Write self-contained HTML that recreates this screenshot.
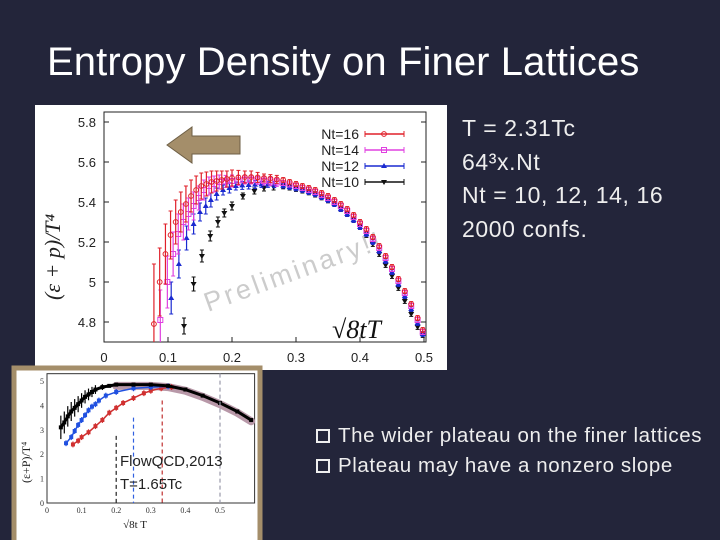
<!DOCTYPE html>
<html><head><meta charset="utf-8"><style>
body{margin:0;width:720px;height:540px;background:#23253a;overflow:hidden;position:relative;font-family:"Liberation Sans",sans-serif}
.t{position:absolute;color:#fff;font-family:"Liberation Sans",sans-serif}
</style></head><body>
<div class="t" style="left:47px;top:40px;font-size:40px;letter-spacing:0.1px">Entropy Density on Finer Lattices</div>
<div class="t" style="left:462px;top:112px;font-size:23px;letter-spacing:0.6px;line-height:33.5px;color:#eee">T = 2.31Tc<br>64³x.Nt<br>Nt = 10, 12, 14, 16<br>2000 confs.</div>
<div class="t" style="left:316px;top:421px;font-size:20.5px;letter-spacing:0.6px;line-height:30px;color:#eee">
<div><span style="display:inline-block;width:14px;height:14px;border:2px solid #eee;box-sizing:border-box;margin-right:8px;position:relative;top:1px"></span>The wider plateau on the finer lattices</div>
<div><span style="display:inline-block;width:14px;height:14px;border:2px solid #eee;box-sizing:border-box;margin-right:8px;position:relative;top:1px"></span>Plateau may have a nonzero slope</div>
</div>
<svg id="main" width="720" height="540" style="position:absolute;left:0;top:0">
<rect x="35" y="105" width="412" height="265" fill="#fff"/>
</svg>
<script>
const NS="http://www.w3.org/2000/svg";
const xTicks=[0,0.1,0.2,0.3,0.4,0.5];
const yTicks=[4.8,5,5.2,5.4,5.6,5.8];
const yTickLabels=["4.8","5","5.2","5.4","5.6","5.8"];
const seriesNames=["Nt=16","Nt=14","Nt=12","Nt=10"];
const tailX=[0.28,0.29,0.30,0.31,0.32,0.33,0.34,0.35,0.36,0.37,0.38,0.39,0.40,0.41,0.42,0.43,0.44,0.45,0.46,0.47,0.48,0.49,0.498];
const x16=[0.078,0.087,0.096,0.104,0.112,0.120,0.128,0.136,0.144,0.152,0.160,0.168,0.176,0.184,0.192,0.200,0.210,0.220,0.230,0.240,0.250,0.260,0.270].concat(tailX);
const y16=[4.79,5.00,5.14,5.235,5.30,5.35,5.39,5.43,5.46,5.48,5.49,5.50,5.505,5.51,5.515,5.52,5.523,5.525,5.525,5.523,5.52,5.517,5.513,
5.51,5.50,5.49,5.48,5.47,5.46,5.445,5.43,5.41,5.39,5.365,5.335,5.30,5.265,5.225,5.18,5.13,5.075,5.015,4.955,4.89,4.82,4.76];
const e16=[0.3,0.17,0.15,0.12,0.11,0.1,0.09,0.08,0.07,0.065,0.06,0.055,0.05,0.045,0.04,0.04,0.035,0.03,0.03,0.025,0.02,0.02,0.02];
const x14=[0.088,0.099,0.108,0.116,0.124,0.132,0.140,0.148,0.156,0.164,0.172,0.180,0.190,0.200,0.210,0.220,0.230,0.240,0.250,0.260,0.270].concat(tailX);
const y14=[4.81,5.00,5.14,5.24,5.30,5.34,5.38,5.42,5.46,5.48,5.49,5.50,5.503,5.505,5.508,5.51,5.51,5.508,5.505,5.502,5.498,
5.495,5.488,5.48,5.47,5.46,5.45,5.435,5.42,5.40,5.38,5.355,5.325,5.29,5.255,5.215,5.17,5.12,5.065,5.005,4.945,4.88,4.81,4.75];
const e14=[0.15,0.13,0.11,0.1,0.09,0.08,0.07,0.06,0.05,0.045,0.04,0.035,0.03,0.03,0.025,0.02,0.02,0.02,0.02,0.02,0.02];
const x12=[0.105,0.117,0.129,0.140,0.150,0.159,0.167,0.176,0.186,0.196,0.206,0.216,0.226,0.236,0.246,0.256,0.266].concat(tailX);
const y12=[4.92,5.09,5.22,5.29,5.35,5.38,5.41,5.44,5.46,5.47,5.48,5.483,5.485,5.487,5.488,5.488,5.487,
5.482,5.475,5.468,5.46,5.45,5.44,5.425,5.41,5.39,5.365,5.34,5.31,5.275,5.24,5.2,5.155,5.105,5.05,4.99,4.93,4.865,4.795,4.74];
const e12=[0.08,0.07,0.06,0.05,0.045,0.04,0.035,0.03,0.025,0.025,0.02,0.02,0.02,0.02,0.015,0.015,0.015];
const x10=[0.125,0.140,0.153,0.166,0.178,0.188,0.200,0.217,0.235,0.250,0.265].concat(tailX);
const y10=[4.78,4.99,5.13,5.23,5.30,5.345,5.38,5.43,5.455,5.47,5.475,
5.478,5.472,5.465,5.457,5.448,5.437,5.423,5.408,5.39,5.365,5.34,5.31,5.275,5.235,5.19,5.14,5.085,5.03,4.97,4.905,4.84,4.775,4.735];
const e10=[0.04,0.035,0.03,0.025,0.025,0.02,0.02,0.015,0.015,0.015,0.015];
const X=v=>104+v*640, Y=v=>122+(5.8-v)*200;
const svg=document.getElementById('main');
function mk(tag,attrs,parent){const e=document.createElementNS(NS,tag);for(const k in attrs)e.setAttribute(k,attrs[k]);(parent||svg).appendChild(e);return e;}
const ax=mk('rect',{x:X(0),y:112,width:X(0.5)-X(0)+2,height:Y(4.7)-112,fill:'none',stroke:'#222','stroke-width':1});


xTicks.forEach(v=>{const t=mk('text',{x:X(v),y:362,'font-size':13,'text-anchor':'middle',fill:'#222'});t.textContent=String(v);


mk('line',{x1:X(v),x2:X(v),y1:Y(4.7),y2:Y(4.7)-5,stroke:'#222'});});
yTicks.forEach((v,i)=>{const t=mk('text',{x:96,y:Y(v)+5,'font-size':13,'text-anchor':'end',fill:'#222'});t.textContent=yTickLabels[i];


mk('line',{x1:X(0),x2:X(0)+5,y1:Y(v),y2:Y(v),stroke:'#222'});mk('line',{x1:X(0.5)+2,x2:X(0.5)-3,y1:Y(v),y2:Y(v),stroke:'#222'});});
const yl=mk('text',{x:0,y:0,'font-size':22,'font-family':'Liberation Serif',transform:'translate(60,300) rotate(-90)',fill:'#222','font-style':'italic'});
yl.textContent='(ε + p)/T⁴';


const wm=mk('text',{x:0,y:0,'font-size':27,fill:'#ccc',transform:'translate(208,312) rotate(-20)','letter-spacing':'3'});
wm.textContent='Preliminary!!';


const xl=mk('text',{x:332,y:338,'font-size':26,'font-family':'Liberation Serif','font-style':'italic',fill:'#111'});
xl.textContent='√8tT';


const arrow=mk('polygon',{points:'167,145 192,127 192,136 240,136 240,154 192,154 192,163',fill:'#a48e6a',stroke:'#6e5f45','stroke-width':1});


function marker(type,cx,cy,c,g){
 if(type==='circle')return mk('circle',{cx,cy,r:2.4,fill:'none',stroke:c,'stroke-width':1},g);
 if(type==='square')return mk('rect',{x:cx-2.5,y:cy-2.5,width:5,height:5,fill:'none',stroke:c,'stroke-width':1},g);
 if(type==='tri')return mk('polygon',{points:`${cx},${cy-3} ${cx-3},${cy+2} ${cx+3},${cy+2}`,fill:c},g);
 return mk('polygon',{points:`${cx},${cy+3} ${cx-3},${cy-2} ${cx+3},${cy-2}`,fill:c},g);
}
const SER=[[x16,y16,e16,'#e0202a','circle'],[x14,y14,e14,'#e040e0','square'],[x12,y12,e12,'#1a2ad0','tri'],[x10,y10,e10,'#111','tri-down']];
SER.slice().reverse().forEach((s,ri)=>{const [xs,ys,es,c,m]=s;const i=3-ri;
 const g=mk('g',{});
 
 
 xs.forEach((xv,j)=>{const e=es[j]!==undefined?es[j]:0.012;const cx=X(xv),cy=Y(ys[j]);
  const top=Y(ys[j]+e),bot=Math.min(Y(ys[j]-e),Y(4.7));
  mk('line',{x1:cx,x2:cx,y1:top,y2:bot,stroke:c,'stroke-width':1.2},g);
  mk('line',{x1:cx-2,x2:cx+2,y1:top,y2:top,stroke:c},g);
  if(bot<Y(4.7))mk('line',{x1:cx-2,x2:cx+2,y1:bot,y2:bot,stroke:c},g);
  if(ys[j]>=4.7)marker(m,cx,cy,c,g);});
});
SER.forEach((s,i)=>{const y=134+i*16;const g=mk('g',{});
 
 
 const t=mk('text',{x:359,y:y+5,'font-size':14,'text-anchor':'end',fill:'#222'},g);t.textContent=seriesNames[i];
 mk('line',{x1:365,x2:404,y1:y,y2:y,stroke:s[3],'stroke-width':1.5},g);
 mk('line',{x1:365,x2:365,y1:y-3,y2:y+3,stroke:s[3]},g);mk('line',{x1:404,x2:404,y1:y-3,y2:y+3,stroke:s[3]},g);
 marker(s[4],384,y,s[3],g);});
</script>
<svg id="inset" width="720" height="540" style="position:absolute;left:0;top:0">
<rect x="14" y="368" width="246" height="180" fill="#fff" stroke="#a48e6a" stroke-width="5"/>
</svg>
<script>
const insXTicks=[0,0.1,0.2,0.3,0.4,0.5];
const insYTicks=[0,1,2,3,4,5];
const insBlackX=[0.04,0.05,0.06,0.07,0.08,0.09,0.10,0.11,0.12,0.13,0.14,0.16,0.18,0.2,0.25,0.3,0.35,0.4,0.45,0.5,0.55,0.59];
const insBlackY=[3.1,3.3,3.55,3.75,3.9,4.05,4.2,4.35,4.45,4.55,4.65,4.75,4.8,4.85,4.85,4.85,4.8,4.65,4.4,4.1,3.75,3.4];
const insBlueX=[0.055,0.07,0.08,0.09,0.1,0.11,0.12,0.13,0.14,0.15,0.17,0.2,0.25,0.3,0.35];
const insBlueY=[2.45,2.7,2.95,3.2,3.4,3.6,3.8,3.95,4.05,4.2,4.4,4.55,4.7,4.75,4.78];
const insRedX=[0.075,0.09,0.1,0.12,0.14,0.16,0.18,0.2,0.22,0.25,0.28,0.3,0.33,0.36];
const insRedY=[2.4,2.55,2.7,2.9,3.15,3.4,3.7,3.9,4.1,4.3,4.5,4.6,4.7,4.75];
const IX=v=>47+v*346, IY=v=>503-v*24.4;
const isv=document.getElementById('inset');
function im(tag,a,p){const e=document.createElementNS(NS,tag);for(const k in a)e.setAttribute(k,a[k]);(p||isv).appendChild(e);return e;}
const fr=im('rect',{x:IX(0),y:IY(5.3),width:IX(0.6)-IX(0),height:IY(0)-IY(5.3),fill:'none',stroke:'#333'});


insXTicks.forEach(v=>{const t=im('text',{x:IX(v),y:513,'font-size':8,'text-anchor':'middle',fill:'#333','font-family':'Liberation Serif'});t.textContent=String(v);

});
insYTicks.forEach(v=>{const t=im('text',{x:IX(0)-3,y:IY(v)+3,'font-size':8,'text-anchor':'end',fill:'#333','font-family':'Liberation Serif'});t.textContent=String(v);

});
const band=im('polyline',{points:insBlackX.filter(x=>x>=0.2).map((x,i)=>IX(x)+','+IY(insBlackY[insBlackX.indexOf(x)]-0.05)).join(' '),fill:'none',stroke:'#b898a8','stroke-width':8,'stroke-linecap':'round'});


[[insRedX,insRedY,'#d03030'],[insBlueX,insBlueY,'#2050e0'],[insBlackX,insBlackY,'#000']].forEach(([xs,ys,c])=>{
 const g=im('g',{});
 
 
 im('polyline',{points:xs.map((x,i)=>IX(x)+','+IY(ys[i])).join(' '),fill:'none',stroke:c,'stroke-width':c==='#000'?3:1.5},g);
 xs.forEach((x,i)=>{const er=c==='#000'?Math.max(0.05,0.6-x*3):0.12;
  im('line',{x1:IX(x),x2:IX(x),y1:IY(ys[i]+er),y2:IY(ys[i]-er),stroke:c,'stroke-width':1.2},g);
  im('rect',{x:IX(x)-2,y:IY(ys[i])-2,width:4,height:4,fill:c},g);});
});
[[0.2,2.75,'#222'],[0.25,3.5,'#3060e0'],[0.333,4.2,'#c03030'],[0.5,5.3,'#99a']].forEach(([x,top,c])=>{
 const l=im('line',{x1:IX(x),x2:IX(x),y1:IY(top),y2:IY(0),stroke:c,'stroke-width':1.2,'stroke-dasharray':'4,3'});
 
 });
const iyl=im('text',{x:0,y:0,'font-size':12,'font-family':'Liberation Serif',transform:'translate(30,483) rotate(-90)',fill:'#222'});iyl.textContent='(ε+P)/T⁴';


const ixl=im('text',{x:135,y:528,'font-size':11,'font-family':'Liberation Serif',fill:'#222','text-anchor':'middle'});ixl.textContent='√8t T';


const an=im('text',{x:120,y:466,'font-size':15,fill:'#222'});an.textContent='FlowQCD,2013';


const an2=im('text',{x:120,y:489,'font-size':15,fill:'#222'});an2.textContent='T=1.65Tc';


</script>
</body></html>
